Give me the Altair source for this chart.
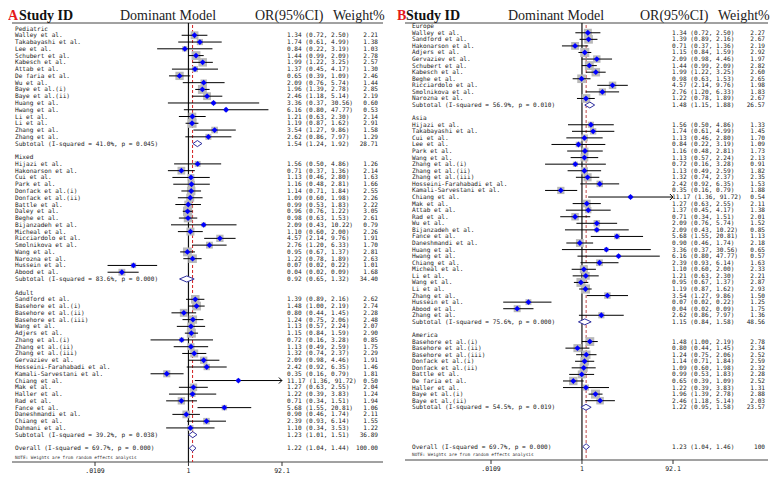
import altair as alt
import pandas as pd

# ------------------------------------------------------------------ data
TICK_VALUES = [0.0109, 1.0, 92.1]
TICK_LABELS = [".0109", "1", "92.1"]

# ---- Panel A : Dominant model by age group
A_PED_NAMES = ["Walley et al.", "Takabayashi et al.", "Lee et al.", "Schubert et al.", "Kabesch et al.",
               "Attab et al.", "De faria et al.", "Wu et al.", "Baye et al.(i)", "Baye et al.(ii)",
               "Huang et al.", "Hwang et al.", "Li et al.", "Li et al.", "Zhang et al.", "Zhang et al."]
A_PED_OR = [1.34, 1.74, 0.84, 1.44, 1.99, 1.37, 0.65, 2.09, 1.96, 2.46, 3.36, 6.16, 1.21, 1.19, 3.54, 2.62]
A_PED_LO = [0.72, 0.61, 0.22, 0.99, 1.22, 0.45, 0.39, 0.76, 1.39, 1.18, 0.37, 0.80, 0.63, 0.87, 1.27, 0.86]
A_PED_HI = [2.50, 4.99, 3.19, 2.09, 3.25, 4.17, 1.09, 5.74, 2.78, 5.14, 30.56, 47.77, 2.30, 1.62, 9.86, 7.97]
A_PED_W = [2.21, 1.38, 1.03, 2.78, 2.57, 1.30, 2.46, 1.44, 2.85, 2.19, 0.60, 0.53, 2.14, 2.91, 1.58, 1.29]
A_PED_SUB = [41.0, 0.045, 1.54, 1.24, 1.92, 28.71]

A_MIX_NAMES = ["Hijazi et al.", "Hakonarson et al.", "Cui et al.", "Park et al.", "Donfack et al.(i)",
               "Donfack et al.(ii)", "Battle et al.", "Daley et al.", "Beghe et al.", "Bijanzadeh et al.",
               "Micheal et al.", "Ricciardolo et al.", "Smolnikova et al.", "Wang et al.", "Narozna et al.",
               "Hussein et al.", "Abood et al."]
A_MIX_OR = [1.56, 0.71, 1.13, 1.16, 1.14, 1.09, 0.99, 0.96, 0.98, 2.09, 1.10, 4.57, 2.76, 0.95, 1.22, 0.07, 0.04]
A_MIX_LO = [0.50, 0.37, 0.46, 0.48, 0.71, 0.60, 0.53, 0.76, 0.63, 0.43, 0.60, 2.14, 1.20, 0.67, 0.78, 0.02, 0.02]
A_MIX_HI = [4.86, 1.36, 2.80, 2.81, 1.84, 1.98, 1.83, 1.22, 1.53, 10.22, 2.00, 9.76, 6.33, 1.37, 1.89, 0.22, 0.09]
A_MIX_W = [1.26, 2.14, 1.63, 1.66, 2.55, 2.26, 2.22, 3.05, 2.61, 0.79, 2.26, 1.91, 1.70, 2.81, 2.63, 1.01, 1.68]
A_MIX_SUB = [83.6, 0.000, 0.92, 0.65, 1.32, 34.40]

A_ADU_NAMES = ["Sandford et al.", "Basehore et al.(i)", "Basehore et al.(ii)", "Basehore  et al.(iii)",
               "Wang et al.", "Adjers et al.", "Zhang et al.(i)", "Zhang et al.(ii)", "Zhang et al.(iii)",
               "Gervaziev et al.", "Hosseini-Farahabadi et al.", "Kamali-Sarvestani et al.", "Chiang et al.",
               "Mak et al.", "Haller et al.", "Rad et al.", "Fance et al.", "Daneshmandi et al.",
               "Chiang et al.", "Dahmani et al."]
A_ADU_OR = [1.39, 1.48, 0.80, 1.24, 1.13, 1.15, 0.72, 1.13, 1.32, 2.09, 2.42, 0.35, 11.17, 1.27, 1.22, 0.71,
            5.68, 0.90, 2.39, 1.10]
A_ADU_LO = [0.89, 1.00, 0.44, 0.75, 0.57, 0.84, 0.16, 0.49, 0.74, 0.98, 0.92, 0.16, 1.36, 0.63, 0.39, 0.34,
            1.55, 0.46, 0.93, 0.34]
A_ADU_HI = [2.16, 2.19, 1.45, 2.06, 2.24, 1.59, 3.28, 2.59, 2.37, 4.46, 6.35, 0.79, 91.72, 2.55, 3.83, 1.51,
            20.81, 1.74, 6.14, 3.53]
A_ADU_W = [2.62, 2.74, 2.28, 2.48, 2.07, 2.90, 0.85, 1.75, 2.29, 1.91, 1.46, 1.81, 0.50, 2.04, 1.24, 1.94,
           1.06, 2.11, 1.55, 1.22]
A_ADU_SUB = [39.2, 0.038, 1.23, 1.01, 1.51, 36.89]

A_OVERALL = [69.7, 0.000, 1.22, 1.04, 1.44]
A_OVERALL_W = "100.00"

# ---- Panel B : Dominant model by region
B_EUR_NAMES = ["Walley et al.", "Sandford et al.", "Hakonarson et al.", "Adjers et al.", "Gervaziev et al.",
               "Schubert et al.", "Kabesch et al.", "Beghe et al.", "Ricciardolo et al.", "Smolnikova et al.",
               "Narozna et al."]
B_EUR_OR = [1.34, 1.39, 0.71, 1.15, 2.09, 1.44, 1.99, 0.98, 4.57, 2.76, 1.22]
B_EUR_LO = [0.72, 0.89, 0.37, 0.84, 0.98, 0.99, 1.22, 0.63, 2.14, 1.20, 0.78]
B_EUR_HI = [2.50, 2.16, 1.36, 1.59, 4.46, 2.09, 3.25, 1.53, 9.76, 6.33, 1.89]
B_EUR_W = [2.27, 2.67, 2.19, 2.92, 1.97, 2.82, 2.60, 2.65, 1.98, 1.83, 2.67]
B_EUR_SUB = [56.9, 0.010, 1.48, 1.15, 1.88, 26.57]

B_ASI_NAMES = ["Hijazi et al.", "Takabayashi et al.", "Cui et al.", "Lee et al.", "Park et al.", "Wang et al.",
               "Zhang et al.(i)", "Zhang et al.(ii)", "Zhang et al.(iii)", "Hosseini-Farahabadi et al.",
               "Kamali-Sarvestani et al.", "Chiang et al.", "Mak et al.", "Attab et al.", "Rad et al.",
               "Wu et al.", "Bijanzadeh et al.", "Fance et al.", "Daneshmandi et al.", "Huang et al.",
               "Hwang et al.", "Chiang et al.", "Micheal et al.", "Li et al.", "Wang et al.", "Li et al.",
               "Zhang et al.", "Hussein et al.", "Abood et al.", "Zhang et al."]
B_ASI_OR = [1.56, 1.74, 1.13, 0.84, 1.16, 1.13, 0.72, 1.13, 1.32, 2.42, 0.35, 11.17, 1.27, 1.37, 0.71, 2.09,
            2.09, 5.68, 0.90, 3.36, 6.16, 2.39, 1.10, 1.21, 0.95, 1.19, 3.54, 0.07, 0.04, 2.62]
B_ASI_LO = [0.50, 0.61, 0.46, 0.22, 0.48, 0.57, 0.16, 0.49, 0.74, 0.92, 0.16, 1.36, 0.63, 0.45, 0.34, 0.76,
            0.43, 1.55, 0.46, 0.37, 0.80, 0.93, 0.60, 0.63, 0.67, 0.87, 1.27, 0.02, 0.02, 0.86]
B_ASI_HI = [4.86, 4.99, 2.80, 3.19, 2.81, 2.24, 3.28, 2.59, 2.37, 6.35, 0.79, 91.72, 2.55, 4.17, 1.51, 5.74,
            10.22, 20.81, 1.74, 30.56, 47.77, 6.14, 2.00, 2.30, 1.37, 1.62, 9.86, 0.22, 0.09, 7.97]
B_ASI_W = [1.33, 1.45, 1.70, 1.09, 1.73, 2.13, 0.91, 1.82, 2.35, 1.53, 1.88, 0.54, 2.11, 1.38, 2.01, 1.52,
           0.85, 1.13, 2.18, 0.65, 0.57, 1.63, 2.33, 2.21, 2.87, 2.93, 1.50, 1.25, 1.75, 1.36]
B_ASI_SUB = [75.6, 0.000, 1.15, 0.84, 1.58, 48.56]

B_AME_NAMES = ["Basehore et al.(i)", "Basehore et al.(ii)", "Basehore  et al.(iii)", "Donfack et al.(i)",
               "Donfack et al.(ii)", "Battle et al.", "De faria et al.", "Haller et al.", "Baye et al.(i)",
               "Baye et al.(ii)"]
B_AME_OR = [1.48, 0.80, 1.24, 1.14, 1.09, 0.99, 0.65, 1.22, 1.96, 2.46]
B_AME_LO = [1.00, 0.44, 0.75, 0.71, 0.60, 0.53, 0.39, 0.39, 1.39, 1.18]
B_AME_HI = [2.19, 1.45, 2.06, 1.84, 1.98, 1.83, 1.09, 3.83, 2.78, 5.14]
B_AME_W = [2.78, 2.34, 2.52, 2.59, 2.32, 2.28, 2.52, 1.31, 2.88, 2.03]
B_AME_SUB = [54.5, 0.019, 1.22, 0.95, 1.58, 23.57]

B_OVERALL = [69.7, 0.000, 1.23, 1.04, 1.46]
B_OVERALL_W = "100"

NOTE_TEXT = "NOTE: Weights are from random effects analysis"

# ------------------------------------------------------------------ styling
FONT = "DejaVu Sans Mono"
SERIF = "Liberation Serif"
FS = 6.1
TXT = "#1a1a1a"
BOX = "#b9b9b9"
BLUE = "#0000ff"
DIA = "#2f2f9f"
RED = "#d42020"
HALF_H = 0.45  # diamond half-height in rows


def make_rows(groups, overall, overall_w, extra_gap):
    recs = []
    idx = 0
    for g in groups:
        recs.append(dict(idx=idx, kind="header", label=g[0]))
        idx += 1
        for n, o, l, h, w in zip(g[1], g[2], g[3], g[4], g[5]):
            recs.append(dict(idx=idx, kind="study", label=n, est=o, lo=l, hi=h, w=w,
                             ortxt=f"{o:.2f} ({l:.2f}, {h:.2f})", wtxt=f"{w:.2f}"))
            idx += 1
        s = g[6]
        recs.append(dict(idx=idx, kind="sub",
                         label=f"Subtotal  (I-squared = {s[0]:.1f}%, p = {s[1]:.3f})",
                         est=s[2], lo=s[3], hi=s[4], w=s[5],
                         ortxt=f"{s[2]:.2f} ({s[3]:.2f}, {s[4]:.2f})", wtxt=f"{s[5]:.2f}"))
        idx += 2
    idx += extra_gap
    o = overall
    recs.append(dict(idx=idx, kind="overall",
                     label=f"Overall  (I-squared = {o[0]:.1f}%, p = {o[1]:.3f})",
                     est=o[2], lo=o[3], hi=o[4], w=100.0,
                     ortxt=f"{o[2]:.2f} ({o[3]:.2f}, {o[4]:.2f})", wtxt=overall_w))
    return pd.DataFrame(recs)


def panel(df, g):
    xmin, xmax = TICK_VALUES[0], TICK_VALUES[-1]
    xs = alt.Scale(type="log", domain=[xmin, xmax], range=[g["xl"], g["xr"]])
    ys = alt.Scale(type="linear", domain=[0, 100], range=[g["y0"], g["y0"] + 100 * g["step"]],
                   zero=False, nice=False)
    one = pd.DataFrame({"a": [0]})

    st = df[df.kind == "study"].copy()
    st["lo_c"] = st["lo"].clip(lower=xmin)
    st["hi_c"] = st["hi"].clip(upper=xmax)
    arrows = st[st["hi"] >= xmax * 0.99]

    dm = df[df.kind.isin(["sub", "overall"])]
    drecs = []
    for _, r in dm.iterrows():
        drecs += [dict(grp=r.idx, x=r.lo, y=r.idx, y2=r.idx),
                  dict(grp=r.idx, x=r.est, y=r.idx - HALF_H, y2=r.idx + HALF_H),
                  dict(grp=r.idx, x=r.hi, y=r.idx, y2=r.idx)]
    ddf = pd.DataFrame(drecs)
    ov = df[df.kind == "overall"][["est"]]
    ticks = pd.DataFrame({"v": TICK_VALUES, "lab": TICK_LABELS})
    Y = alt.Y("idx:Q", scale=ys, axis=None)

    layers = [
        # header line and axis line
        alt.Chart(one).mark_rule(color="#444", strokeWidth=1).encode(
            x=alt.value(g["line_l"]), x2=alt.value(g["line_r"]), y=alt.value(g["hline"])),
        alt.Chart(one).mark_rule(color="#444", strokeWidth=1).encode(
            x=alt.value(g["line_l"]), x2=alt.value(g["line_r"]), y=alt.value(g["axis_y"])),
        # null line
        alt.Chart(pd.DataFrame({"v": [1.0]})).mark_rule(color="#111", strokeWidth=1.2).encode(
            x=alt.X("v:Q", scale=xs, axis=None), y=alt.value(g["hline"]), y2=alt.value(g["axis_y"])),
        # overall estimate line
        alt.Chart(ov).mark_rule(color=g["red"], strokeWidth=1, strokeDash=[3, 2]).encode(
            x=alt.X("est:Q", scale=xs, axis=None), y=alt.value(g["hline"] + 2), y2=alt.value(g["axis_y"])),
        # weight boxes
        alt.Chart(st).mark_square(color=BOX, opacity=1).encode(
            x=alt.X("est:Q", scale=xs, axis=None), y=Y,
            size=alt.Size("w:Q", scale=alt.Scale(type="linear", domain=[0, 3], range=[0, 84]), legend=None)),
        # CIs
        alt.Chart(st).mark_rule(color="black", strokeWidth=1).encode(
            x=alt.X("lo_c:Q", scale=xs, axis=None), x2="hi_c:Q", y=Y),
        # arrow for truncated CI
        alt.Chart(arrows).mark_point(shape="M-1,-1L0,0L-1,1", filled=False, color="black",
                                     strokeWidth=1, size=36, opacity=1).encode(
            x=alt.X("hi_c:Q", scale=xs, axis=None), y=Y),
        # point estimates
        alt.Chart(st).mark_point(shape="diamond", filled=True, color=BLUE, size=34, opacity=1).encode(
            x=alt.X("est:Q", scale=xs, axis=None), y=Y),
        # pooled diamonds
        alt.Chart(ddf).mark_area(orient="vertical", fill="white", stroke=DIA, strokeWidth=1,
                                 fillOpacity=1).encode(
            x=alt.X("x:Q", scale=xs, axis=None), y=alt.Y("y:Q", scale=ys, axis=None), y2="y2:Q",
            detail="grp:N"),
        # labels
        alt.Chart(df).mark_text(align="left", baseline="middle", font=FONT, fontSize=FS, color=TXT).encode(
            x=alt.value(g["name_x"]), y=Y, text="label:N"),
        alt.Chart(df[df.kind != "header"]).mark_text(align="left", baseline="middle", font=FONT,
                                                     fontSize=FS, color=TXT).encode(
            x=alt.value(g["or_x"]), y=Y, text="ortxt:N"),
        alt.Chart(df[df.kind != "header"]).mark_text(align="right", baseline="middle", font=FONT,
                                                     fontSize=FS, color=TXT).encode(
            x=alt.value(g["w_x"]), y=Y, text="wtxt:N"),
        # axis ticks
        alt.Chart(ticks).mark_rule(color="#333", strokeWidth=1).encode(
            x=alt.X("v:Q", scale=xs, axis=None), y=alt.value(g["axis_y"]), y2=alt.value(g["axis_y"] + 4)),
        alt.Chart(ticks).mark_text(baseline="middle", font=FONT, fontSize=6.5, color=TXT).encode(
            x=alt.X("v:Q", scale=xs, axis=None), y=alt.value(g["tick_y"]), text="lab:N"),
        # note
        alt.Chart(one).mark_text(text=NOTE_TEXT, align="left", baseline="middle", font=FONT,
                                 fontSize=4.4, color="#333").encode(
            x=alt.value(g["name_x"]), y=alt.value(g["note_y"])),
        # header texts
        alt.Chart(one).mark_text(text=g["letter"], align="left", baseline="alphabetic", font=SERIF,
                                 fontSize=14, fontWeight="bold", color="#e41a1c").encode(
            x=alt.value(g["letter_x"]), y=alt.value(g["head_y"])),
        alt.Chart(one).mark_text(text="Study ID", align="left", baseline="alphabetic", font=SERIF,
                                 fontSize=14, fontWeight="bold", color="#111").encode(
            x=alt.value(g["study_x"]), y=alt.value(g["head_y"])),
        alt.Chart(one).mark_text(text="Dominant Model", align="left", baseline="alphabetic", font=SERIF,
                                 fontSize=14, color="#222").encode(
            x=alt.value(g["dm_x"]), y=alt.value(g["head_y"])),
        alt.Chart(one).mark_text(text="OR(95%CI)", align="left", baseline="alphabetic", font=SERIF,
                                 fontSize=14, color="#222").encode(
            x=alt.value(g["orh_x"]), y=alt.value(g["head_y"])),
        alt.Chart(one).mark_text(text="Weight%", align="left", baseline="alphabetic", font=SERIF,
                                 fontSize=14, color="#222").encode(
            x=alt.value(g["wh_x"]), y=alt.value(g["head_y"])),
    ]
    return alt.layer(*layers).properties(width=g["W"], height=g["H"])


A_groups = [
    ("Pediatric", A_PED_NAMES, A_PED_OR, A_PED_LO, A_PED_HI, A_PED_W, A_PED_SUB),
    ("Mixed", A_MIX_NAMES, A_MIX_OR, A_MIX_LO, A_MIX_HI, A_MIX_W, A_MIX_SUB),
    ("Adult", A_ADU_NAMES, A_ADU_OR, A_ADU_LO, A_ADU_HI, A_ADU_W, A_ADU_SUB),
]
B_groups = [
    ("Europe", B_EUR_NAMES, B_EUR_OR, B_EUR_LO, B_EUR_HI, B_EUR_W, B_EUR_SUB),
    ("Asia", B_ASI_NAMES, B_ASI_OR, B_ASI_LO, B_ASI_HI, B_ASI_W, B_ASI_SUB),
    ("America", B_AME_NAMES, B_AME_OR, B_AME_LO, B_AME_HI, B_AME_W, B_AME_SUB),
]

dfA = make_rows(A_groups, A_OVERALL, A_OVERALL_W, 0)
dfB = make_rows(B_groups, B_OVERALL, B_OVERALL_W, 4)

geoA = dict(W=377, H=466, xl=87, xr=274, y0=18.5, step=6.77, hline=13, axis_y=452, tick_y=461,
            note_y=448, line_l=4, line_r=375, name_x=7, or_x=279, w_x=370, head_y=9.5,
            letter="A", letter_x=0, study_x=11, dm_x=112, orh_x=247, wh_x=325, red=RED)
geoB = dict(W=385, H=466, xl=106, xr=288, y0=16.2, step=6.57, hline=13, axis_y=450, tick_y=459,
            note_y=445, line_l=20, line_r=383, name_x=27, or_x=287, w_x=380, head_y=9.5,
            letter="B", letter_x=12, study_x=21, dm_x=123, orh_x=255, wh_x=333, red="#c04848")

chart = alt.hconcat(panel(dfA, geoA), panel(dfB, geoB), spacing=0, bounds="flush").properties(
    padding=0).configure_view(stroke=None)

chart.save("out.html", embed_options={"renderer": "svg", "actions": False})
